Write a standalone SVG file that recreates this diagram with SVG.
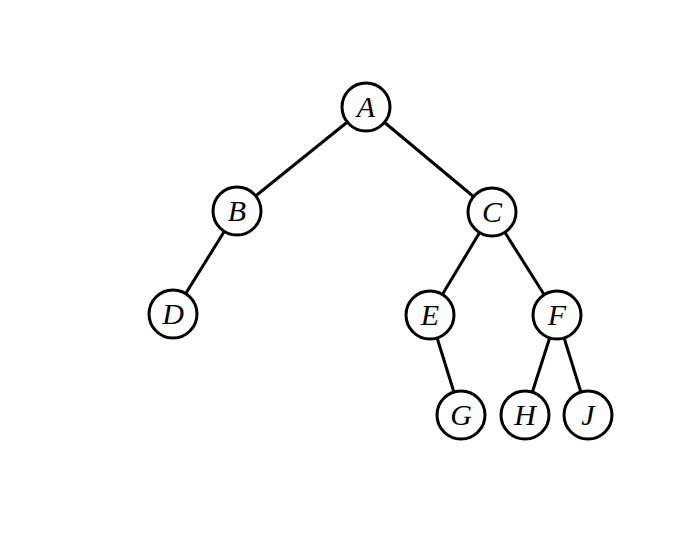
<svg xmlns="http://www.w3.org/2000/svg" width="690" height="534" viewBox="0 0 690 534">
<style>
.n circle{fill:#fff;stroke:#000;stroke-width:3}
.n text{font-family:"Liberation Serif","DejaVu Serif",serif;font-style:italic;font-size:30px;text-anchor:middle;dominant-baseline:central;fill:#000}
.e line{stroke:#000;stroke-width:3}
</style>
<rect width="690" height="534" fill="#fff"/>
<g id="edges" class="e">
<line x1="366" y1="107" x2="237" y2="211"/>
<line x1="366" y1="107" x2="492" y2="212"/>
<line x1="237" y1="211" x2="173" y2="314"/>
<line x1="492" y1="212" x2="430" y2="315"/>
<line x1="492" y1="212" x2="557" y2="315"/>
<line x1="430" y1="315" x2="461" y2="415"/>
<line x1="557" y1="315" x2="525" y2="415"/>
<line x1="557" y1="315" x2="588" y2="415"/>
</g>
<g id="A" class="n"><circle cx="366" cy="107" r="24"/><text x="366" y="106">A</text></g>
<g id="B" class="n"><circle cx="237" cy="211" r="24"/><text x="237" y="210">B</text></g>
<g id="C" class="n"><circle cx="492" cy="212" r="24"/><text x="492" y="211">C</text></g>
<g id="D" class="n"><circle cx="173" cy="314" r="24"/><text x="173" y="313">D</text></g>
<g id="E" class="n"><circle cx="430" cy="315" r="24"/><text x="430" y="314">E</text></g>
<g id="F" class="n"><circle cx="557" cy="315" r="24"/><text x="557" y="314">F</text></g>
<g id="G" class="n"><circle cx="461" cy="415" r="24"/><text x="461" y="414">G</text></g>
<g id="H" class="n"><circle cx="525" cy="415" r="24"/><text x="525" y="414">H</text></g>
<g id="J" class="n"><circle cx="588" cy="415" r="24"/><text x="588" y="414">J</text></g>
</svg>
